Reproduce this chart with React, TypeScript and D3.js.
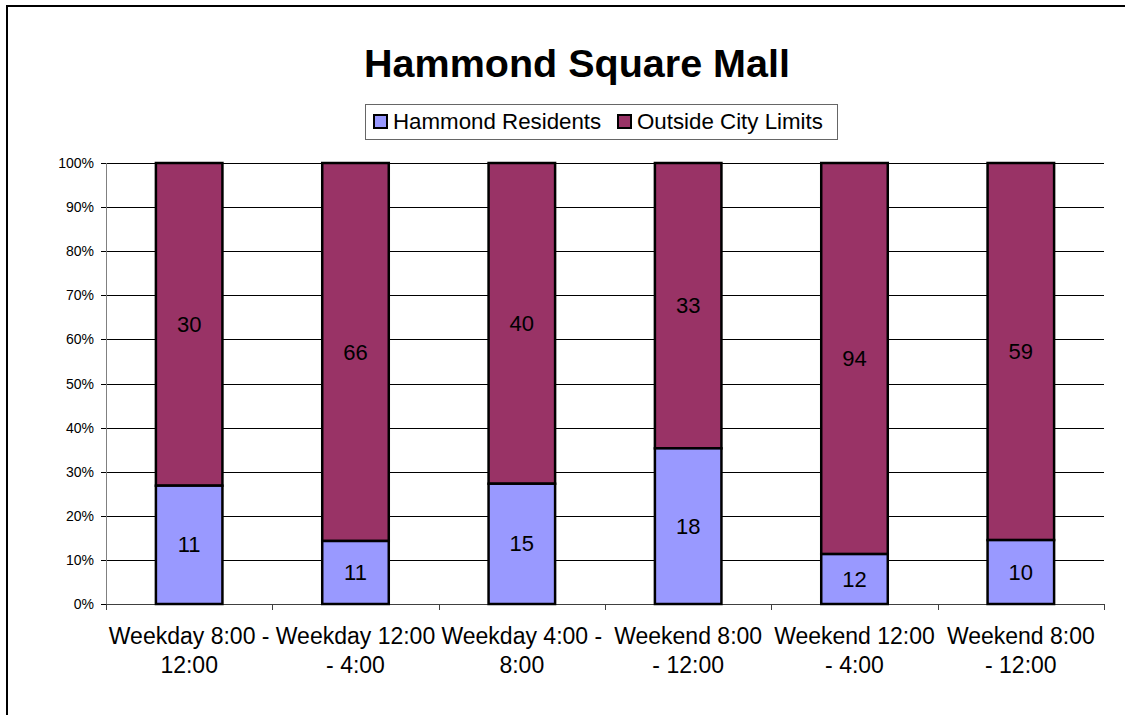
import React from "react";
import * as d3 from "d3";

const categories = [
  "Weekday 8:00 -\n12:00",
  "Weekday 12:00\n- 4:00",
  "Weekday 4:00 -\n8:00",
  "Weekend 8:00\n- 12:00",
  "Weekend 12:00\n- 4:00",
  "Weekend 8:00\n- 12:00",
];
const hammondResidents = [11, 11, 15, 18, 12, 10];
const outsideCityLimits = [30, 66, 40, 33, 94, 59];
const seriesNames = ["Hammond Residents", "Outside City Limits"];
const seriesColors = ["#9999FF", "#993366"];
const yTicks = [0, 0.1, 0.2, 0.3, 0.4, 0.5, 0.6, 0.7, 0.8, 0.9, 1.0];

const W = 1125;
const H = 715;
const plot = { left: 106, right: 1104, top: 163, bottom: 604 };
const FONT = "Arial, 'Liberation Sans', Helvetica, sans-serif";

export default function App() {
  const x = d3
    .scaleBand<number>()
    .domain(d3.range(categories.length))
    .range([plot.left, plot.right])
    .paddingInner(0)
    .paddingOuter(0);
  const y = d3.scaleLinear().domain([0, 1]).range([plot.bottom, plot.top]);
  const barW = x.bandwidth() * 0.4;
  const fmt = d3.format(".0%");

  const rows = categories.map((c, i) => {
    const a = hammondResidents[i];
    const b = outsideCityLimits[i];
    const t = a + b;
    return { c, i, a, b, pa: a / t };
  });

  const boundaries = d3.range(categories.length + 1).map((i) =>
    i < categories.length ? (x(i) as number) : plot.right
  );

  return (
    <svg
      width={W}
      height={H}
      style={{ position: "absolute", left: 0, top: 0, background: "#fff", overflow: "hidden" }}
      fontFamily={FONT}
    >
      <rect x={0} y={0} width={W} height={H} fill="#fff" />
      <path d={`M7,${H} V6 H${W}`} fill="none" stroke="#000" strokeWidth={2} />

      <text x={577} y={77} textAnchor="middle" fontSize={39.5} fontWeight="bold" fill="#000">
        Hammond Square Mall
      </text>

      {/* Legend */}
      <rect x={365.5} y={104.5} width={472} height={35} fill="#fff" stroke="#666" strokeWidth={1} />
      {[
        { x: 374, tx: 393 },
        { x: 618, tx: 637 },
      ].map((l, k) => (
        <g key={k}>
          <rect x={l.x} y={115} width={13} height={13} fill={seriesColors[k]} stroke="#000" strokeWidth={2} />
          <text x={l.tx} y={129} fontSize={22.3} fill="#000">
            {seriesNames[k]}
          </text>
        </g>
      ))}

      {/* gridlines */}
      {yTicks.map((t) => (
        <line key={"g" + t} x1={plot.left} x2={plot.right} y1={Math.round(y(t)) + 0.5} y2={Math.round(y(t)) + 0.5} stroke="#000" strokeWidth={1} />
      ))}
      {/* y axis */}
      <line x1={plot.left + 0.5} x2={plot.left + 0.5} y1={plot.top} y2={plot.bottom} stroke="#808080" strokeWidth={1} />
      {yTicks.map((t) => (
        <g key={"t" + t}>
          <line x1={plot.left - 5} x2={plot.left} y1={Math.round(y(t)) + 0.5} y2={Math.round(y(t)) + 0.5} stroke="#000" />
          <text x={plot.left - 12} y={y(t) + 5} textAnchor="end" fontSize={14} fill="#000">
            {fmt(t)}
          </text>
        </g>
      ))}
      {/* x axis */}
      <line x1={plot.left} x2={plot.right} y1={plot.bottom + 0.5} y2={plot.bottom + 0.5} stroke="#404040" strokeWidth={1} />
      {boundaries.map((bx, i) => (
        <line key={"xt" + i} x1={Math.round(bx) + 0.5} x2={Math.round(bx) + 0.5} y1={plot.bottom} y2={plot.bottom + 6} stroke="#404040" />
      ))}

      {/* bars */}
      {rows.map((r) => {
        const cx = (x(r.i) as number) + x.bandwidth() / 2;
        const x0 = cx - barW / 2;
        const yMid = y(r.pa);
        return (
          <g key={"b" + r.i}>
            <rect x={x0} y={y(1)} width={barW} height={yMid - y(1)} fill={seriesColors[1]} stroke="#000" strokeWidth={2.5} />
            <rect x={x0} y={yMid} width={barW} height={y(0) - yMid} fill={seriesColors[0]} stroke="#000" strokeWidth={2.5} />
            <text x={cx} y={(yMid + y(0)) / 2 + 7.5} textAnchor="middle" fontSize={22} fill="#000">
              {r.a}
            </text>
            <text x={cx} y={(yMid + y(1)) / 2 + 7.5} textAnchor="middle" fontSize={22} fill="#000">
              {r.b}
            </text>
          </g>
        );
      })}

      {/* category labels */}
      {rows.map((r) => {
        const cx = (x(r.i) as number) + x.bandwidth() / 2;
        return (
          <text key={"c" + r.i} x={cx} y={644} textAnchor="middle" fontSize={23} fill="#000">
            {r.c.split("\n").map((ln, j) => (
              <tspan key={j} x={cx} dy={j === 0 ? 0 : 29}>
                {ln}
              </tspan>
            ))}
          </text>
        );
      })}
    </svg>
  );
}
